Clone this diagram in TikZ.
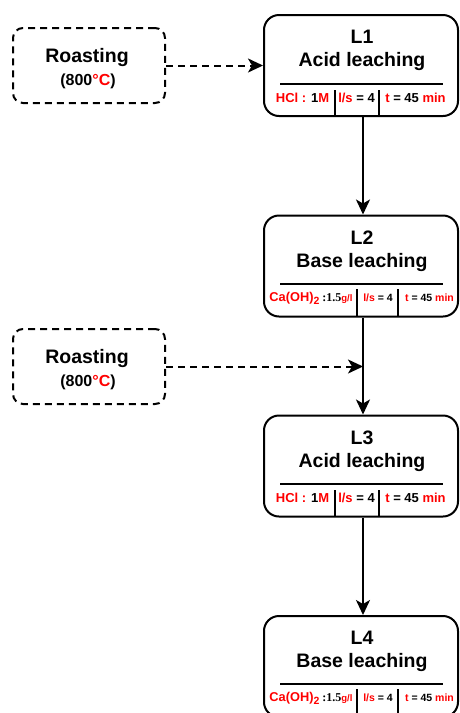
\documentclass[tikz,border=0pt]{standalone}
\usepackage{fontspec}
\setmainfont{Liberation Sans}
\newfontfamily\numfont{Liberation Serif}
\usetikzlibrary{arrows.meta,positioning}
\definecolor{chem}{RGB}{255,0,0}

\begin{document}
\begin{tikzpicture}[x=1pt, y=-1pt, font=\bfseries]

  \newcommand{\rd}[1]{\textcolor{chem}{#1}}
  \newcommand{\caoh}{\rd{\fontsize{12.8}{14}\selectfont Ca(OH)\raisebox{-2.5pt}{\fontsize{10.5}{12}\selectfont 2}}%
    {\numfont\fontsize{12}{14}\selectfont\ :1.5}\rd{\fontsize{9.5}{11}\selectfont g/l}}
  \tikzset{
    leach/.style = {draw, line width=2pt, rounded corners=15pt,
      minimum width=194pt, minimum height=101pt, inner sep=0pt},
    roast/.style = {draw, line width=2pt, dash pattern=on 7pt off 5pt,
      rounded corners=10pt, minimum width=152pt, minimum height=75pt},
    title/.style = {font=\bfseries\fontsize{19.5}{22}\selectfont, anchor=base, inner sep=0pt},
    hot/.style = {font=\bfseries\fontsize{16}{18}\selectfont, anchor=base, inner sep=0pt},
    cond/.style = {font=\bfseries\fontsize{13}{15}\selectfont, anchor=base, inner sep=0pt},
    condsm/.style = {font=\bfseries\fontsize{10.5}{12}\selectfont, anchor=base, inner sep=0pt},
    rule/.style = {line width=2pt},
    flow/.style = {line width=2pt, -{Stealth[length=15pt, width=14pt, inset=4pt]}},
    supply/.style = {line width=2pt, dash pattern=on 7pt off 5pt,
      -{Stealth[length=15pt, width=14pt, inset=4pt]}}
  }
  \useasboundingbox (0,0) rectangle (460,713);

  % roasting steps
  \node[roast] (R1) at (89,65.5) {};
  \node[title] (R1t) at (87,62.8) {Roasting};
  \node[hot]   (R1c) at (88,85) {(800\rd{°C})};
  \node[roast] (R2) at (89,366.5) {};
  \node[title] (R2t) at (87,363.8) {Roasting};
  \node[hot]   (R2c) at (88,386) {(800\rd{°C})};

  % leaching steps
  \node[leach] (L1) at (361,65.5) {};
  \node[title] (L1n) at (362,43.3) {L1};
  \node[title] (L1t) at (362,66.7) {Acid leaching};
  \draw[rule] (280,84) -- (443,84);
  \draw[rule] (335,90) -- (335,116) (379,90) -- (379,116);
  \node[cond] (L1a) at (302.5,102.3) {\rd{HCl :} 1\rd{M}};
  \node[cond] (L1b) at (356.5,102.3) {\rd{l/s} = 4};
  \node[cond] (L1c) at (415.5,102.3) {\rd{t} = 45 \rd{min}};

  \node[leach] (L2) at (361,266) {};
  \node[title] (L2n) at (362,244) {L2};
  \node[title] (L2t) at (362,267.5) {Base leaching};
  \draw[rule] (280,284) -- (443,284);
  \draw[rule] (357,289) -- (357,316) (398,289) -- (398,316);
  \node[cond]   (L2a) at (311,301.7) {\caoh};
  \node[condsm] (L2b) at (378,301.7) {\rd{l/s} = 4};
  \node[condsm] (L2c) at (429.5,301.7) {\rd{t} = 45 \rd{min}};

  \node[leach] (L3) at (361,466) {};
  \node[title] (L3n) at (362,444) {L3};
  \node[title] (L3t) at (362,467.5) {Acid leaching};
  \draw[rule] (280,484) -- (443,484);
  \draw[rule] (335,490) -- (335,516) (379,490) -- (379,516);
  \node[cond] (L3a) at (302.5,502.3) {\rd{HCl :} 1\rd{M}};
  \node[cond] (L3b) at (356.5,502.3) {\rd{l/s} = 4};
  \node[cond] (L3c) at (415.5,502.3) {\rd{t} = 45 \rd{min}};

  \node[leach] (L4) at (361,666.5) {};
  \node[title] (L4n) at (362,644) {L4};
  \node[title] (L4t) at (362,667.5) {Base leaching};
  \draw[rule] (280,684) -- (443,684);
  \draw[rule] (357,689) -- (357,716) (398,689) -- (398,716);
  \node[cond]   (L4a) at (311,701.7) {\caoh};
  \node[condsm] (L4b) at (378,701.7) {\rd{l/s} = 4};
  \node[condsm] (L4c) at (429.5,701.7) {\rd{t} = 45 \rd{min}};

  % connections
  \coordinate (J) at ([xshift=2pt]L2.south |- R2.east);
  \draw[supply] (R1.east) -- (L1.west);
  \draw[supply] (R2.east) -- (J);
  \draw[flow] ([xshift=2pt]L1.south) -- ([xshift=2pt]L2.north);
  \draw[flow] ([xshift=2pt]L2.south) -- ([xshift=2pt]L3.north);
  \draw[flow] ([xshift=2pt]L3.south) -- ([xshift=2pt]L4.north);

\end{tikzpicture}
\end{document}
